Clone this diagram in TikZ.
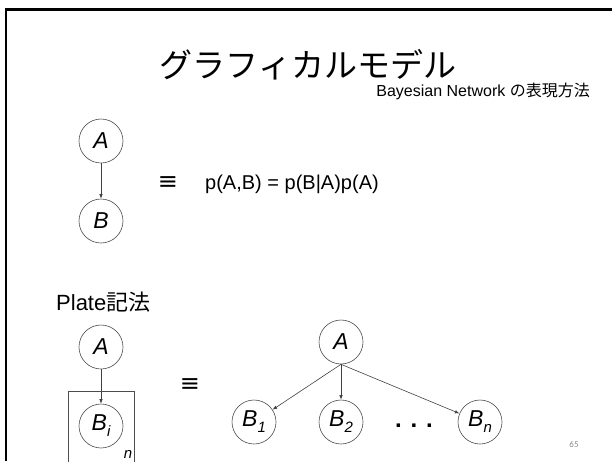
\documentclass[tikz,border=0pt]{standalone}
\usepackage{fontspec}
\setmainfont{Liberation Sans}
\newfontfamily\jpfont{Noto Sans CJK JP}
\newfontfamily\dvfont{DejaVu Sans}
\newfontfamily\calfont{Carlito}
\usetikzlibrary{arrows.meta}
\newcommand{\fsz}[1]{\fontsize{#1}{#1}\selectfont}
\newcommand{\lowsub}[1]{\raisebox{-6pt}{\fsz{15}#1}}
\begin{document}
\begin{tikzpicture}[x=1pt,y=-1pt,
  var/.style={circle,draw=black!70,line width=0.6pt,minimum size=44pt,inner sep=0pt,font=\fsz{23}\itshape},
  arr/.style={draw=black!75,line width=0.6pt,-{Latex[length=4.5pt,width=3.5pt]}},
  equiv/.style={font=\dvfont\fsz{24}},
  frame/.style={line width=2.5pt,black}]
\useasboundingbox (0,0) rectangle (612,461);
\draw[frame] (6,461) -- (6,9.5) -- (612,9.5);
\node (title) at (308,65) {\jpfont\fsz{33}グラフィカルモデル};
\node[anchor=east,inner sep=0pt] (sub) at (590,91) {\fsz{16}Bayesian Network {\jpfont の表現方法}};
\node[var] (A1) at (101,141) {A};
\node[var] (B1t) at (101,221) {B};
\draw[arr] (A1) -- (B1t);
\node[equiv] (eq1) at (168,183) {≡};
\node[anchor=west,inner sep=0pt] (form) at (205,184) {\fsz{20}p(A,B) = p(B|A)p(A)};
\node[anchor=west,inner sep=0pt] (plate) at (56,302) {\fsz{22}Plate{\jpfont 記法}};
\node[var] (A2) at (101,347) {A};
\node[var] (Bi) at (101,426) {B\lowsub{i}};
\draw[arr] (A2) -- (Bi);
\coordinate (p1) at (68,462);
\coordinate (p2) at (68,391);
\coordinate (p3) at (134,391);
\coordinate (p4) at (134,462);
\draw[black!70,line width=0.6pt] (p1) -- (p2) -- (p3) -- (p4);
\node (nlab) at (128,454) {\fsz{15}\itshape n};
\node[equiv] (eq2) at (190,385) {≡};
\node[var] (A3) at (341,342) {A};
\node[var] (B1) at (254,422) {B\lowsub{1}};
\node[var] (B2) at (341,422) {B\lowsub{2}};
\node[var] (Bn) at (480,422) {B\lowsub{n}};
\draw[arr] (A3.south) -- (B1);
\draw[arr] (A3.south) -- (B2);
\draw[arr] (A3.south) -- (Bn);
\node (dots) at (414,426) {\fsz{24}\bfseries . . .};
\node[text=black!45] (pg) at (574,444) {\calfont\fsz{9}65};
\end{tikzpicture}
\end{document}
